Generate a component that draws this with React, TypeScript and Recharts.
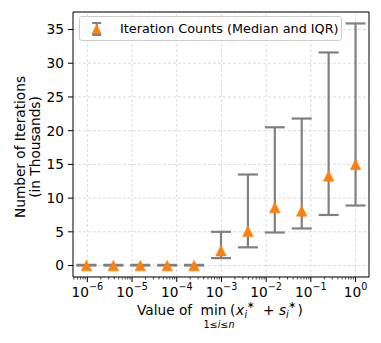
import React from 'react';
import {
  ScatterChart, Scatter, XAxis, YAxis, CartesianGrid, ErrorBar, ReferenceLine, Legend,
} from 'recharts';

// ---- data ----
const xPositions = [9.537e-7, 3.815e-6, 1.526e-5, 6.104e-5, 2.441e-4, 9.766e-4, 3.906e-3, 1.563e-2, 6.25e-2, 0.25, 1];
const medians = [0, 0, 0, 0, 0, 2.2, 5.1, 8.6, 8.1, 13.3, 15.0];
const q1 = [0, 0, 0, 0, 0, 1.1, 2.7, 4.9, 5.5, 7.5, 8.9];
const q3 = [0.1, 0.1, 0.1, 0.1, 0.1, 5.0, 13.5, 20.5, 21.8, 31.6, 35.9];
const xMajorTicks = [1e-6, 1e-5, 1e-4, 1e-3, 1e-2, 1e-1, 1];
const xMajorExponents = ['−6', '−5', '−4', '−3', '−2', '−1', '0'];
const yTicks = [0, 5, 10, 15, 20, 25, 30, 35];
const seriesName = 'Iteration Counts (Median and IQR)';

const X_DOMAIN: [number, number] = [4.77e-7, 1.999];
const Y_DOMAIN: [number, number] = [-1.7, 37.6];

const xMinorTicks: number[] = [];
for (let d = -7; d <= 0; d++) {
  for (let k = 2; k <= 9; k++) {
    const v = k * Math.pow(10, d);
    if (v > X_DOMAIN[0] && v < X_DOMAIN[1]) xMinorTicks.push(v);
  }
}
const allXTicks = [...xMajorTicks, ...xMinorTicks].sort((a, b) => a - b);

const data = xPositions.map((x, i) => ({
  x,
  y: medians[i],
  err: [medians[i] - q1[i], q3[i] - medians[i]],
}));

const FONT = 'DejaVu Sans';
const ORANGE = '#ff7f0e';
const GREY = '#808080';
const GRID = '#d3d3d3';

const Triangle = (props: any) => {
  const { cx, cy } = props;
  if (cx == null || cy == null) return null;
  const h = 5.3;
  return (
    <polygon
      points={`${cx},${cy - h} ${cx - h},${cy + h} ${cx + h},${cy + h}`}
      fill={ORANGE}
      stroke={ORANGE}
      strokeWidth={0.5}
    />
  );
};

const XTick = (props: any) => {
  const { x, y, payload } = props;
  const v = payload.value;
  const idx = xMajorTicks.findIndex((m) => Math.abs(Math.log10(m) - Math.log10(v)) < 1e-6);
  const major = idx >= 0;
  return (
    <g>
      <line x1={x} y1={y} x2={x} y2={y + (major ? 5 : 2.5)} stroke="#000" strokeWidth={major ? 1 : 0.7} />
      {major && (
        <text x={x} y={y + 20} textAnchor="middle" fontFamily={FONT} fontSize={13.7} fill="#000">
          <tspan>10</tspan>
          <tspan dy={-7} fontSize={9.6}>{xMajorExponents[idx]}</tspan>
        </text>
      )}
    </g>
  );
};

const YLabel = () => (
  <g fontFamily={FONT} fontSize={13.7} fill="#000">
    <text x={19.5} y={147} transform="rotate(-90 19.5 147)" textAnchor="middle" dominantBaseline="central" fill="#000">
      Number of Iterations
    </text>
    <text x={35} y={147} transform="rotate(-90 35 147)" textAnchor="middle" dominantBaseline="central" fill="#000">
      (in Thousands)
    </text>
  </g>
);

const XLabel = () => (
  <g fontFamily={FONT} fill="#000">
    <text x={137} y={315} fontSize={13.7} fill="#000">Value of</text>
    <text x={213.5} y={315} fontSize={13.7} textAnchor="middle" fill="#000">min</text>
    <text x={219} y={328} fontSize={9.6} textAnchor="middle" fill="#000">
      1≤<tspan fontStyle="italic">i</tspan>≤<tspan fontStyle="italic">n</tspan>
    </text>
    <text x={230} y={315} fontSize={13.7} fill="#000">(</text>
    <text x={236} y={315} fontSize={13.7} fontStyle="italic" fill="#000">x</text>
    <text x={244.5} y={318} fontSize={9.6} fontStyle="italic" fill="#000">i</text>
    <text x={246.5} y={308} fontSize={9.6} fill="#000">∗</text>
    <text x={263} y={315} fontSize={13.7} fill="#000">+</text>
    <text x={279} y={315} fontSize={13.7} fontStyle="italic" fill="#000">s</text>
    <text x={286} y={318} fontSize={9.6} fontStyle="italic" fill="#000">i</text>
    <text x={288} y={308} fontSize={9.6} fill="#000">∗</text>
    <text x={297.5} y={315} fontSize={13.7} fill="#000">)</text>
  </g>
);

const LegendContent = () => (
  <div
    style={{
      position: 'relative',
      boxSizing: 'border-box',
      width: 263,
      height: 25,
      border: '1px solid #cccccc',
      borderRadius: 3,
      background: 'rgba(255,255,255,0.8)',
      fontFamily: FONT,
    }}
  >
    <svg width={40} height={25} style={{ position: 'absolute', left: -1, top: -1 }}>
      <line x1={17.7} y1={7} x2={17.7} y2={19} stroke={GREY} strokeWidth={2} />
      <line x1={13.2} y1={7} x2={22.2} y2={7} stroke={GREY} strokeWidth={2} />
      <line x1={13.2} y1={19} x2={22.2} y2={19} stroke={GREY} strokeWidth={2} />
      <polygon points="17.7,8 12.7,18 22.7,18" fill={ORANGE} />
    </svg>
    <span
      style={{
        position: 'absolute',
        left: 40,
        top: 0,
        lineHeight: '23px',
        fontSize: 12.8,
        color: '#000',
        whiteSpace: 'nowrap',
      }}
    >
      {seriesName}
    </span>
  </div>
);

export default function App() {
  return (
    <div style={{ position: 'absolute', left: 0, top: 0, width: 381, height: 343, background: '#fff' }}>
      <ScatterChart width={381} height={343} margin={{ top: 12, right: 12, bottom: 0, left: 0 }}>
        <CartesianGrid vertical={false} stroke={GRID} strokeDasharray="3 2" strokeWidth={0.8} />
        {xMajorTicks.map((t) => (
          <ReferenceLine key={`g${t}`} x={t} stroke={GRID} strokeDasharray="3 2" strokeWidth={0.8} />
        ))}
        <XAxis
          type="number"
          dataKey="x"
          scale="log"
          domain={X_DOMAIN}
          allowDataOverflow
          ticks={allXTicks}
          interval={0}
          tickSize={0}
          tickMargin={0}
          tickLine={false}
          tick={<XTick />}
          height={66}
          axisLine={{ stroke: '#000', strokeWidth: 1 }}
          label={<XLabel />}
        />
        <YAxis
          type="number"
          dataKey="y"
          domain={Y_DOMAIN}
          allowDataOverflow
          ticks={yTicks}
          interval={0}
          width={73}
          tickSize={5}
          tickMargin={4}
          tick={{ fontSize: 13.7, fill: '#000', fontFamily: FONT }}
          tickLine={{ stroke: '#000', strokeWidth: 1 }}
          axisLine={{ stroke: '#000', strokeWidth: 1 }}
          label={<YLabel />}
        />
        <ReferenceLine y={Y_DOMAIN[1]} stroke="#000" strokeWidth={1} />
        <ReferenceLine x={X_DOMAIN[1]} stroke="#000" strokeWidth={1} />
        <Legend
          layout="horizontal"
          verticalAlign="middle"
          align="center"
          wrapperStyle={{ position: 'absolute', left: 79, top: 16, width: 263, height: 25 }}
          content={<LegendContent />}
        />
        <Scatter
          name={seriesName}
          data={data}
          shape={<Triangle />}
          isAnimationActive={false}
        >
          <ErrorBar dataKey="err" direction="y" width={10} stroke={GREY} strokeWidth={2.2} />
        </Scatter>
      </ScatterChart>
    </div>
  );
}
